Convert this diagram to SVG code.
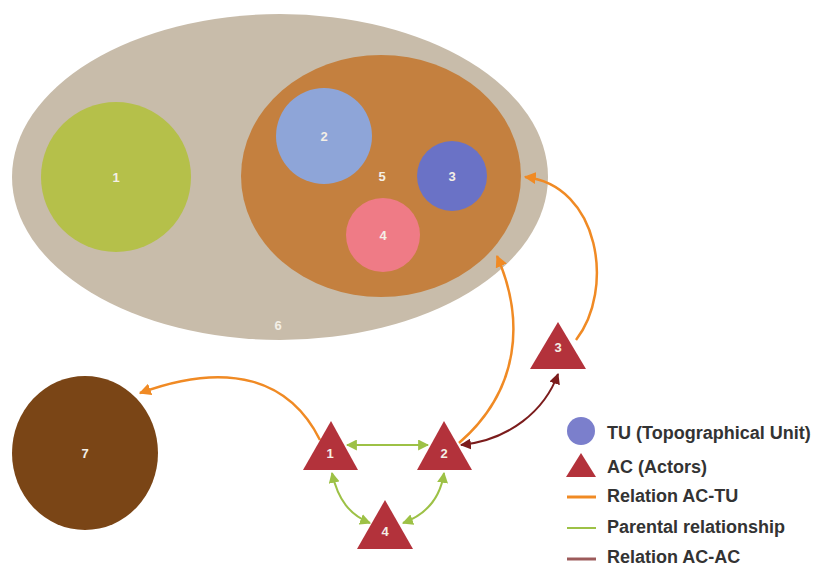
<svg xmlns="http://www.w3.org/2000/svg" width="823" height="567" viewBox="0 0 823 567">
<defs>
<style>
.lbl{font-family:"Liberation Sans",Arial,sans-serif;font-size:13px;fill:#f4efe6;text-anchor:middle;font-weight:bold}
.leg{font-family:"Liberation Sans",Arial,sans-serif;font-size:18px;font-weight:bold;fill:#333}
.tri{fill:#b3323b}
.o{fill:none;stroke:#f08a24;stroke-width:2.5}
.g{fill:none;stroke:#9dc146;stroke-width:2}
.r{fill:none;stroke:#7b1c1c;stroke-width:2}
</style>
<marker id="ao" viewBox="0 0 10 10" refX="9" refY="5" markerWidth="12" markerHeight="12" markerUnits="userSpaceOnUse" orient="auto-start-reverse"><path d="M0,0 L10,5 L0,10 Z" fill="#f08a24"/></marker>
<marker id="ag" viewBox="0 0 10 10" refX="9" refY="5" markerWidth="11" markerHeight="11" markerUnits="userSpaceOnUse" orient="auto-start-reverse"><path d="M0,0 L10,5 L0,10 Z" fill="#9dc146"/></marker>
<marker id="ar" viewBox="0 0 10 10" refX="9" refY="5" markerWidth="11" markerHeight="11" markerUnits="userSpaceOnUse" orient="auto-start-reverse"><path d="M0,0 L10,5 L0,10 Z" fill="#7b1c1c"/></marker>
</defs>
<rect width="823" height="567" fill="#ffffff"/>
<g id="tu6"><ellipse cx="280" cy="177" rx="268" ry="163" fill="#c8bcaa"/><text class="lbl" x="278" y="330">6</text></g>
<g id="tu1"><circle cx="116" cy="177" r="75" fill="#b5c04a"/><text class="lbl" x="116" y="182">1</text></g>
<g id="tu5"><ellipse cx="381" cy="176" rx="140" ry="121" fill="#c4803f"/><text class="lbl" x="382" y="181">5</text></g>
<g id="tu2"><circle cx="324" cy="136" r="48" fill="#8ea5d8"/><text class="lbl" x="324" y="141">2</text></g>
<g id="tu3"><circle cx="452" cy="176" r="35" fill="#6a72c6"/><text class="lbl" x="452" y="181">3</text></g>
<g id="tu4"><circle cx="383" cy="235" r="37" fill="#ef7b86"/><text class="lbl" x="383" y="240">4</text></g>
<g id="tu7"><ellipse cx="85" cy="453" rx="73" ry="77" fill="#7a4516"/><text class="lbl" x="85" y="458">7</text></g>
<g id="connectors">
<path class="o" d="M320,440 C290,380 230,360 140,393" marker-end="url(#ao)"/>
<path class="o" d="M459,443 C520,390 525,320 497,256" marker-end="url(#ao)"/>
<path class="o" d="M576,340 C615,290 600,185 525,177" marker-end="url(#ao)"/>
<path class="g" d="M347,445 L428,445" marker-start="url(#ag)" marker-end="url(#ag)"/>
<path class="g" d="M332,473 C338,500 350,515 370,523" marker-start="url(#ag)" marker-end="url(#ag)"/>
<path class="g" d="M444,473 C440,500 425,515 403,523" marker-start="url(#ag)" marker-end="url(#ag)"/>
<path class="r" d="M461,445 C510,440 545,410 558,374" marker-start="url(#ar)" marker-end="url(#ar)"/>
</g>
<g id="ac1"><polygon class="tri" points="331,421 303,470 358,470"/><text class="lbl" x="330" y="458">1</text></g>
<g id="ac2"><polygon class="tri" points="444,421 417,470 472,470"/><text class="lbl" x="444" y="458">2</text></g>
<g id="ac3"><polygon class="tri" points="558,322 530,369 586,369"/><text class="lbl" x="558" y="352">3</text></g>
<g id="ac4"><polygon class="tri" points="385,500 357,549 413,549"/><text class="lbl" x="385" y="536">4</text></g>
<g id="legend">
<circle cx="581" cy="431" r="14" fill="#7b7fcc"/>
<text class="leg" x="607" y="439">TU (Topographical Unit)</text>
<polygon class="tri" points="581,453 566,477 596,477"/>
<text class="leg" x="607" y="473">AC (Actors)</text>
<line x1="567" y1="497" x2="596" y2="497" stroke="#f08a24" stroke-width="3"/>
<text class="leg" x="607" y="502">Relation AC-TU</text>
<line x1="567" y1="528" x2="596" y2="528" stroke="#9dc146" stroke-width="2"/>
<text class="leg" x="607" y="533">Parental relationship</text>
<line x1="567" y1="559" x2="596" y2="559" stroke="#9c5a5a" stroke-width="3"/>
<text class="leg" x="607" y="563">Relation AC-AC</text>
</g>
</svg>
